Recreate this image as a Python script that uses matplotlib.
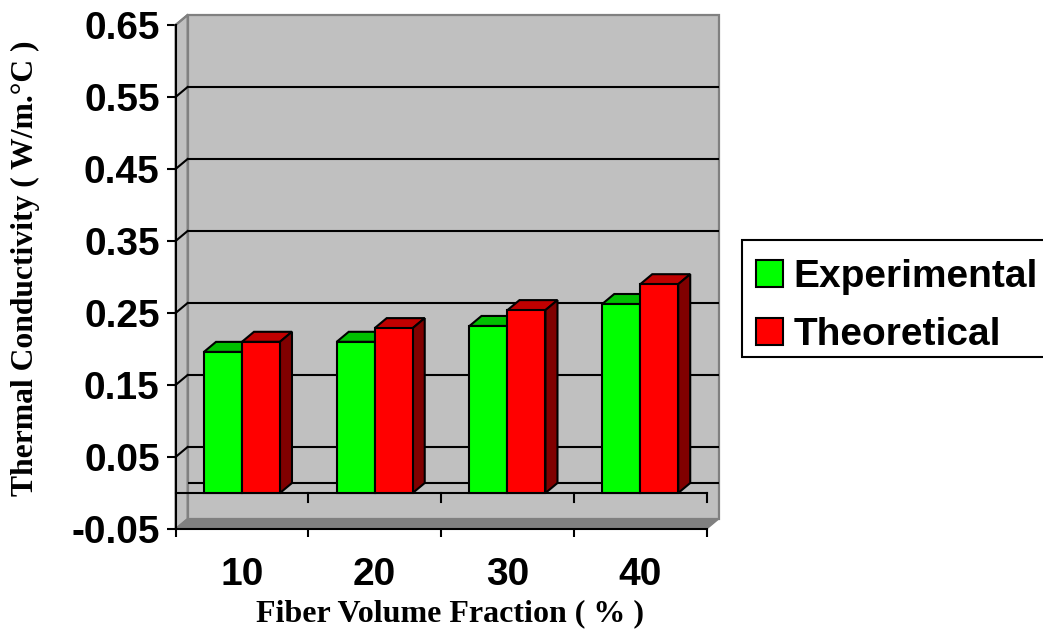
import numpy as np
import matplotlib
matplotlib.use('Agg')
import matplotlib.pyplot as plt
from matplotlib.patches import Patch, Polygon, Rectangle

# values
fractions = ['10', '20', '30', '40']
experimental = [0.196, 0.21, 0.232, 0.2625]
theoretical = [0.21, 0.229, 0.254, 0.29]
y_ticks = [-0.05, 0.05, 0.15, 0.25, 0.35, 0.45, 0.55, 0.65]

GREEN = ['#00ff00', '#00c000', '#008000']
RED = ['#ff0000', '#c00000', '#800000']
WALL = '#c0c0c0'
DARK = '#808080'

SANS = 'Liberation Sans'
SERIF = 'Liberation Serif'

W, H = 1043, 630
fig = plt.figure(figsize=(W / 100, H / 100), dpi=100)
ax = fig.add_axes([175.6 / W, (H - 529) / H, 543 / W, 514 / H])

px_x = 1 / 132.75
px_y = 0.1 / 72
ax.set_xlim(0, 543 * px_x)
ax.set_ylim(-0.05, -0.05 + 514 * px_y)
ax.patch.set_visible(False)

# depth of the 3d box
dx = 12 * px_x
dy = 10 * px_y
x_end = len(fractions)
y_low, y_top = y_ticks[0], y_ticks[-1]

# walls and floor
ax.add_patch(Polygon([(dx, y_low + dy), (x_end + dx, y_low + dy), (x_end + dx, y_top + dy), (dx, y_top + dy)],
                     fc=WALL, ec=DARK, lw=1.6, zorder=1, clip_on=False))
ax.add_patch(Polygon([(0, y_low), (dx, y_low + dy), (dx, y_top + dy), (0, y_top)],
                     fc=WALL, ec=DARK, lw=1.6, zorder=1, clip_on=False))
ax.add_patch(Polygon([(0, y_low), (x_end, y_low), (x_end + dx, y_low + dy), (dx, y_low + dy)],
                     fc=DARK, ec=DARK, lw=1, zorder=1.5, clip_on=False))

# grid on the back wall
for v in y_ticks[1:-1] + [0.0]:
    ax.plot([dx, x_end + dx], [v + dy, v + dy], color='black', lw=1.5, zorder=2,
            solid_capstyle='butt', clip_on=False)
    if v != 0.0:
        ax.plot([0, dx], [v, v + dy], color='black', lw=1.5, zorder=2, clip_on=False)
ax.plot([0, dx], [y_top, y_top + dy], color=DARK, lw=1.5, zorder=2, clip_on=False)

# zero plane with its ticks
ax.plot([0, x_end], [0, 0], color='black', lw=1.5, zorder=3, clip_on=False)
for i in range(1, x_end + 1):
    ax.plot([i, i], [0, -9 * px_y], color='black', lw=1.5, zorder=3, clip_on=False)

bar_w = 38 * px_x
x = np.arange(len(fractions)) + 0.5


def bar3d(xs, values, colors, z):
    for xi, v in zip(xs, values):
        ax.bar(xi, v, bar_w, color=colors[0], edgecolor='black', lw=1.5, zorder=z + 1)
        l, r = xi - bar_w / 2, xi + bar_w / 2
        ax.add_patch(Polygon([(l, v), (r, v), (r + dx, v + dy), (l + dx, v + dy)],
                             fc=colors[1], ec='black', lw=1.5, zorder=z))
        ax.add_patch(Polygon([(r, 0), (r + dx, dy), (r + dx, v + dy), (r, v)],
                             fc=colors[2], ec='black', lw=1.5, zorder=z))


bar3d(x - bar_w / 2, experimental, GREEN, 4)
bar3d(x + bar_w / 2, theoretical, RED, 6)

# axes
for s in ['top', 'right']:
    ax.spines[s].set_visible(False)
ax.spines['left'].set_bounds(y_low, y_top)
ax.spines['bottom'].set_bounds(0, x_end)
for s in ['left', 'bottom']:
    ax.spines[s].set_linewidth(1.5)
    ax.spines[s].set_zorder(10)

ax.set_yticks(y_ticks)
ax.set_yticklabels(['%.2f' % v for v in y_ticks], fontfamily=SANS, fontweight='bold', fontsize=28)
ax.tick_params(axis='y', length=6.5, width=1.5, pad=5)
ax.set_xticks(np.arange(x_end + 1))
ax.set_xticklabels([])
ax.tick_params(axis='x', which='major', length=6, width=1.5)
ax.set_xticks(x, minor=True)
ax.set_xticklabels(fractions, minor=True, fontfamily=SANS, fontweight='bold', fontsize=28)
ax.tick_params(axis='x', which='minor', length=0, pad=20)

fig.text(450 / W, (H - 613.5) / H, 'Fiber Volume Fraction ( % )', family=SERIF, weight='bold',
         fontsize=23, ha='center', va='center')
fig.text(25.5 / W, (H - 268) / H, 'Thermal Conductivity ( W/m.°C )', family=SERIF, weight='bold',
         fontsize=22.8, ha='center', va='center', rotation=90)

# legend box runs off the right edge, text sits low inside it
fig.add_artist(Rectangle((742 / W, (H - 357) / H), 310 / W, 117 / H, transform=fig.transFigure,
                         fc='white', ec='black', lw=1.5))
handles = [Patch(fc=GREEN[0], ec='black', lw=1.5), Patch(fc=RED[0], ec='black', lw=1.5)]
leg = fig.legend(handles, ['Experimental', 'Theoretical'], loc='upper left',
                 bbox_to_anchor=(742 / W, (H - 245) / H), borderaxespad=0,
                 prop={'family': SANS, 'weight': 'bold', 'size': 28},
                 handlelength=0.69, handleheight=0.69, handletextpad=0.28,
                 borderpad=0.36, labelspacing=0.575, frameon=False)

plt.savefig('out.png', dpi=100)
